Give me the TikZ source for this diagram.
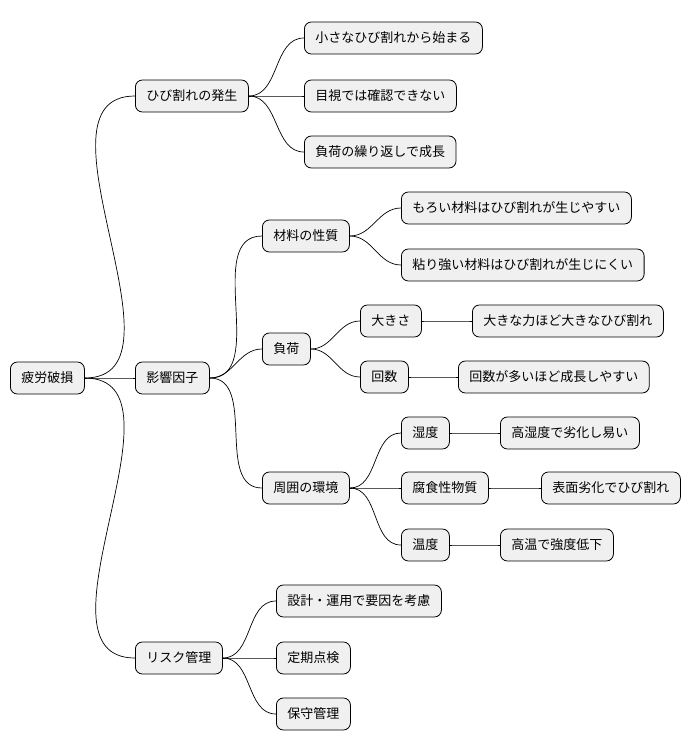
\documentclass[tikz,border=0pt]{standalone}
\usepackage{fontspec}
\setmainfont{Noto Sans CJK JP}
\begin{document}
\begin{tikzpicture}[x=1pt,y=-1pt,
 n/.style={draw=black,fill=black!6,rounded corners=7pt,line width=0.8pt,anchor=west,minimum height=32pt,inner xsep=11pt,font=\fontsize{13}{15}\selectfont},
 e/.style={line width=0.7pt,out=0,in=180}]
\useasboundingbox (0,0) rectangle (698,752);
\node[n] (r) at (10,378) {疲労破損};
\node[n] (a) at (135,96) {ひび割れの発生};
\node[n] (b) at (135,378) {影響因子};
\node[n] (c) at (135,658) {リスク管理};
\node[n] (a1) at (304,38) {小さなひび割れから始まる};
\node[n] (a2) at (304,96) {目視では確認できない};
\node[n] (a3) at (304,152) {負荷の繰り返しで成長};
\node[n] (b1) at (262,236) {材料の性質};
\node[n] (b2) at (262,349) {負荷};
\node[n] (b3) at (262,488) {周囲の環境};
\node[n] (b11) at (401,208) {もろい材料はひび割れが生じやすい};
\node[n] (b12) at (401,265) {粘り強い材料はひび割れが生じにくい};
\node[n] (b21) at (360,321) {大きさ};
\node[n] (b22) at (360,377) {回数};
\node[n] (b211) at (472,321) {大きな力ほど大きなひび割れ};
\node[n] (b221) at (458,377) {回数が多いほど成長しやすい};
\node[n] (b31) at (401,433) {湿度};
\node[n] (b32) at (401,488) {腐食性物質};
\node[n] (b33) at (401,545) {温度};
\node[n] (b311) at (500,433) {高湿度で劣化し易い};
\node[n] (b321) at (541,488) {表面劣化でひび割れ};
\node[n] (b331) at (500,545) {高温で強度低下};
\node[n] (c1) at (276,601) {設計・運用で要因を考慮};
\node[n] (c2) at (276,658) {定期点検};
\node[n] (c3) at (276,714) {保守管理};
\foreach \p/\c in {r/a,r/b,r/c,a/a1,a/a2,a/a3,b/b1,b/b2,b/b3,b1/b11,b1/b12,b2/b21,b2/b22,b21/b211,b22/b221,b3/b31,b3/b32,b3/b33,b31/b311,b32/b321,b33/b331,c/c1,c/c2,c/c3}
  \draw[e] (\p.east) to (\c.west);
\end{tikzpicture}
\end{document}
